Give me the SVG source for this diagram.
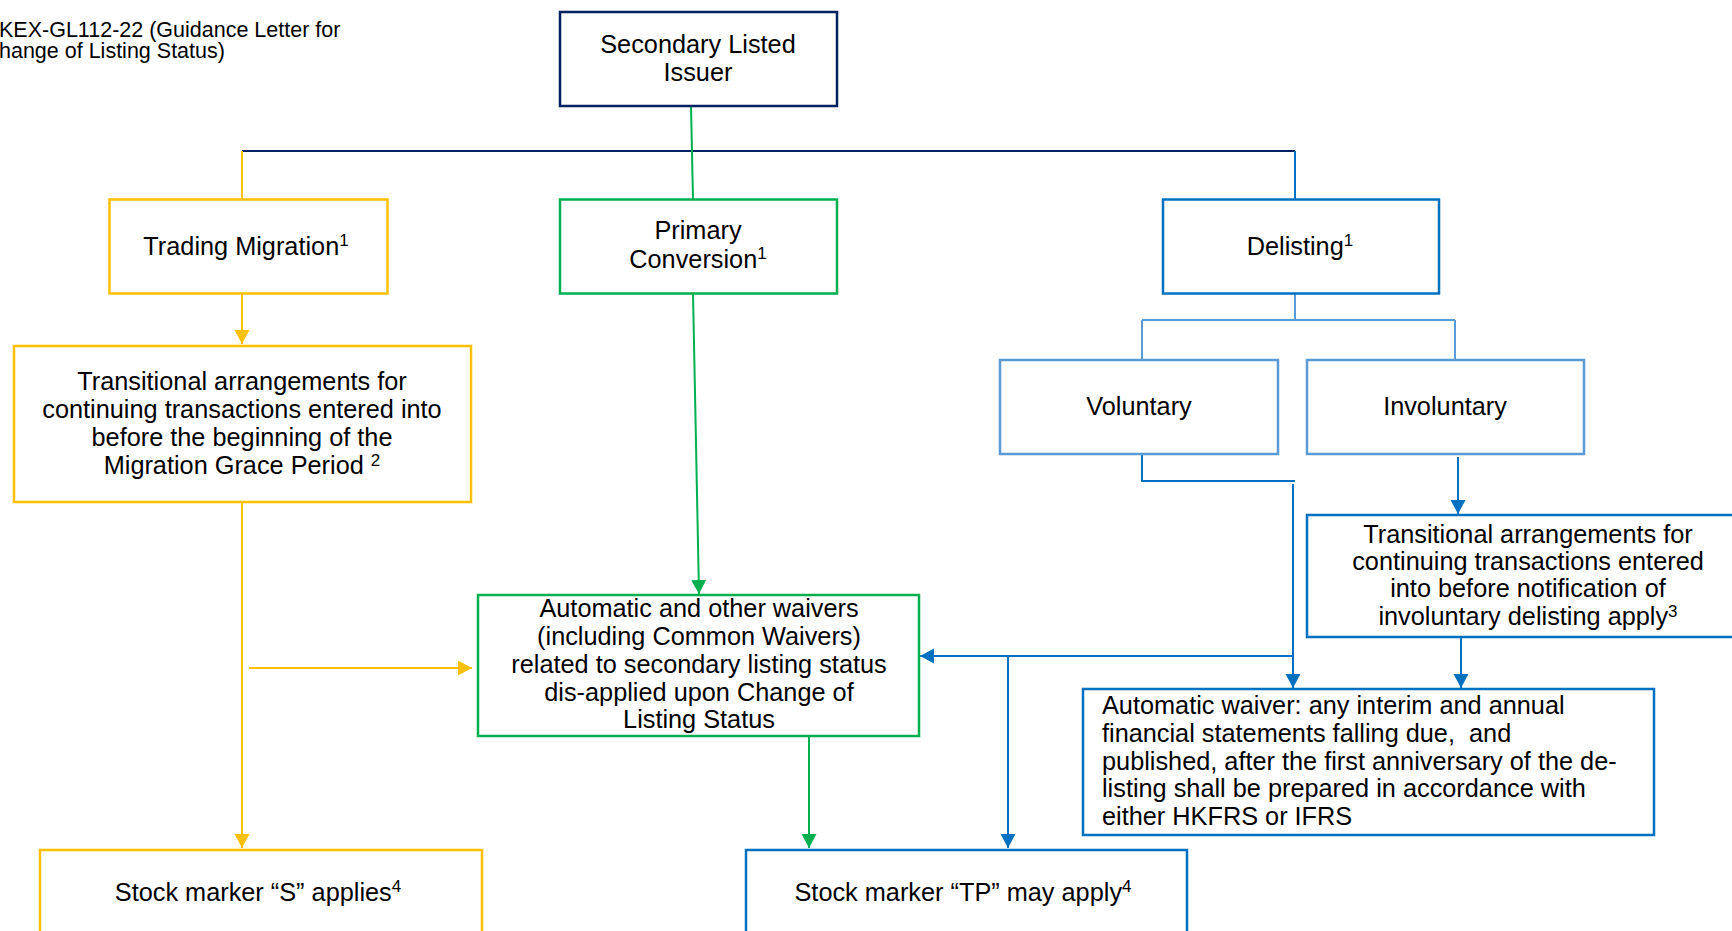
<svg xmlns="http://www.w3.org/2000/svg" width="1732" height="931" viewBox="0 0 1732 931">
<style>
.box{fill:#fff;stroke-width:2.5}
.y{stroke:#FFC000}
.g{stroke:#00B050}
.b{stroke:#0070C0}
.lb{stroke:#5B9BD5}
.n{stroke:#002060}
.t{font-family:"Liberation Sans",Arial,sans-serif;font-size:25.3px;fill:#000}
.c{text-anchor:middle}
.sup{font-size:17px}
.ln{fill:none;stroke-width:2}
</style>
<defs>
<marker id="ay" markerUnits="userSpaceOnUse" markerWidth="16" markerHeight="16" refX="14" refY="7.5" orient="auto"><path d="M0,0 L14,7.5 L0,15 z" fill="#FFC000"/></marker>
<marker id="ag" markerUnits="userSpaceOnUse" markerWidth="16" markerHeight="16" refX="14" refY="7.5" orient="auto"><path d="M0,0 L14,7.5 L0,15 z" fill="#00B050"/></marker>
<marker id="ab" markerUnits="userSpaceOnUse" markerWidth="16" markerHeight="16" refX="14" refY="7.5" orient="auto"><path d="M0,0 L14,7.5 L0,15 z" fill="#0070C0"/></marker>
</defs>
<rect width="1732" height="931" fill="#fff"/>

<g id="title">
<text class="t" style="font-size:21.5px" x="-1" y="37">KEX-GL112-22 (Guidance Letter for</text>
<text class="t" style="font-size:21.5px" x="-1" y="58">hange of Listing Status)</text>
</g>

<g id="connectors">
<path class="ln n" d="M242,151 H1295"/>
<path class="ln y" d="M242,151 V200"/>
<path class="ln g" d="M691,106 L693,200"/>
<path class="ln b" d="M1295,151 V200"/>
<path class="ln lb" d="M1295,293 V320 M1142,320 H1455 M1142,320 V360 M1455,320 V360"/>
<path class="ln y" d="M242,293 V344" marker-end="url(#ay)"/>
<path class="ln y" d="M242,502 V848" marker-end="url(#ay)"/>
<path class="ln y" d="M249,668 H472" marker-end="url(#ay)"/>
<path class="ln g" d="M693,293 L699,594" marker-end="url(#ag)"/>
<path class="ln g" d="M809,736 V848" marker-end="url(#ag)"/>
<path class="ln b" d="M1142,454 V481 H1295"/>
<path class="ln b" d="M1293,484 V688" marker-end="url(#ab)"/>
<path class="ln b" d="M1293,656 H920" marker-end="url(#ab)"/>
<path class="ln b" d="M1008,656 V848" marker-end="url(#ab)"/>
<path class="ln b" d="M1458,457 V514" marker-end="url(#ab)"/>
<path class="ln b" d="M1461,637 V688" marker-end="url(#ab)"/>
</g>

<g id="secondary-listed-issuer">
<rect class="box n" x="560" y="12" width="277" height="94"/>
<text class="t c" x="698" y="53">Secondary Listed</text>
<text class="t c" x="698" y="81">Issuer</text>
</g>

<g id="trading-migration">
<rect class="box y" x="109.5" y="199.5" width="278" height="94"/>
<text class="t c" x="246" y="255">Trading Migration<tspan class="sup" dy="-9">1</tspan></text>
</g>

<g id="primary-conversion">
<rect class="box g" x="560" y="199.5" width="277" height="94"/>
<text class="t c" x="698" y="239">Primary</text>
<text class="t c" x="698" y="268">Conversion<tspan class="sup" dy="-9">1</tspan></text>
</g>

<g id="delisting">
<rect class="box b" x="1163" y="199.5" width="276" height="94"/>
<text class="t c" x="1300" y="255">Delisting<tspan class="sup" dy="-9">1</tspan></text>
</g>

<g id="voluntary">
<rect class="box lb" x="1000" y="360" width="278" height="94"/>
<text class="t c" x="1139" y="415">Voluntary</text>
</g>

<g id="involuntary">
<rect class="box lb" x="1307" y="360" width="277" height="94"/>
<text class="t c" x="1445" y="415">Involuntary</text>
</g>

<g id="transitional-migration">
<rect class="box y" x="14" y="346" width="457" height="156"/>
<text class="t c" x="242" y="390">Transitional arrangements for</text>
<text class="t c" x="242" y="418">continuing transactions entered into</text>
<text class="t c" x="242" y="446">before the beginning of the</text>
<text class="t c" x="242" y="474">Migration Grace Period <tspan class="sup" dy="-8">2</tspan></text>
</g>

<g id="transitional-involuntary">
<rect class="box b" x="1307" y="515" width="440" height="122"/>
<text class="t c" x="1528" y="543">Transitional arrangements for</text>
<text class="t c" x="1528" y="570">continuing transactions entered</text>
<text class="t c" x="1528" y="597">into before notification of</text>
<text class="t c" x="1528" y="625">involuntary delisting apply<tspan class="sup" dy="-8">3</tspan></text>
</g>

<g id="waivers">
<rect class="box g" x="478" y="595" width="441" height="141"/>
<text class="t c" x="699" y="617">Automatic and other waivers</text>
<text class="t c" x="699" y="645">(including Common Waivers)</text>
<text class="t c" x="699" y="673">related to secondary listing status</text>
<text class="t c" x="699" y="701">dis-applied upon Change of</text>
<text class="t c" x="699" y="728">Listing Status</text>
</g>

<g id="automatic-waiver">
<rect class="box b" x="1083" y="689" width="571" height="146"/>
<text class="t" x="1102" y="714">Automatic waiver: any interim and annual</text>
<text class="t" x="1102" y="742" xml:space="preserve">financial statements falling due,  and</text>
<text class="t" x="1102" y="770">published, after the first anniversary of the de-</text>
<text class="t" x="1102" y="797">listing shall be prepared in accordance with</text>
<text class="t" x="1102" y="825">either HKFRS or IFRS</text>
</g>

<g id="stock-marker-s">
<rect class="box y" x="40" y="850" width="442" height="100"/>
<text class="t c" x="258" y="901">Stock marker “S” applies<tspan class="sup" dy="-9">4</tspan></text>
</g>

<g id="stock-marker-tp">
<rect class="box b" x="746" y="850" width="441" height="100"/>
<text class="t c" x="963" y="901">Stock marker “TP” may apply<tspan class="sup" dy="-9">4</tspan></text>
</g>
</svg>
